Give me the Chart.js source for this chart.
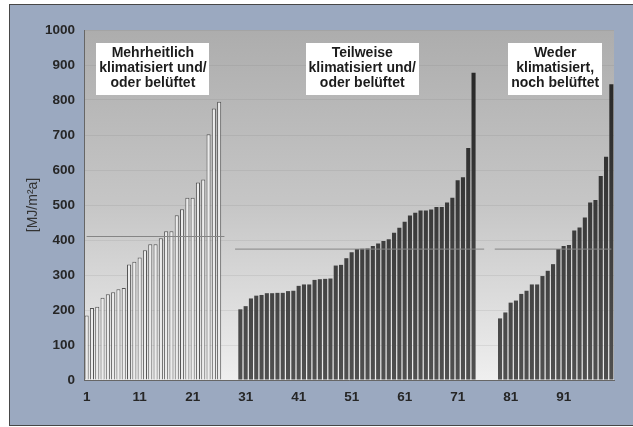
<!DOCTYPE html>
<html><head><meta charset="utf-8">
<script src="https://cdn.jsdelivr.net/npm/chart.js@4/dist/chart.umd.min.js"></script>
<style>
html,body{margin:0;padding:0;background:#fff;}
#wrap{position:relative;width:633px;height:427px;overflow:hidden;}
#frame{position:absolute;left:9px;top:4px;width:630px;height:422px;box-sizing:border-box;background:#9ba9c0;border:1.5px solid #474747;}
canvas{position:absolute;left:0;top:0;}
</style></head><body>
<div id="wrap"><div id="frame"></div><canvas id="c" width="633" height="427"></canvas></div>
<script>
const categories = ["1","2","3","4","5","6","7","8","9","10","11","12","13","14","15","16","17","18","19","20",
  "21","22","23","24","25","26","27","28","29","30","31","32","33","34","35","36","37","38","39","40",
  "41","42","43","44","45","46","47","48","49","50","51","52","53","54","55","56","57","58","59","60",
  "61","62","63","64","65","66","67","68","69","70","71","72","73","74","75","76","77","78","79","80",
  "81","82","83","84","85","86","87","88","89","90","91","92","93","94","95","96","97","98","99","100"];
const tickLabels = ["1","11","21","31","41","51","61","71","81","91"];
const groupNames = [
  ["Mehrheitlich","klimatisiert und/","oder belüftet"],
  ["Teilweise","klimatisiert und/","oder belüftet"],
  ["Weder","klimatisiert,","noch belüftet"]
];
const group1Values = [184,206,209,235,245,251,259,263,330,338,350,371,388,388,405,425,425,471,488,521,521,564,573,702,776,795];
const group2Values = [202,211,233,241,243,248,248,249,249,254,255,269,273,273,286,288,289,290,327,329,348,365,374,375,376,383,390,397,402,421,435,452,470,478,484,484,487,494,494,507,521,571,579,663,878];
const group3Values = [176,193,221,227,246,255,273,273,297,312,331,374,383,386,427,436,464,507,514,583,638,845];
const groupStarts = ["1","30","79"];
const meanValues = [410,374,374];
const meanFrom = ["1","29","78"];
const meanTo = ["27","76","100"];

function place(values, start){
  const s = categories.indexOf(start);
  return categories.map((c,i)=> (i>=s && i<s+values.length) ? values[i-s] : null);
}
function span(value, from, to){
  const a = categories.indexOf(from), b = categories.indexOf(to);
  return categories.map((c,i)=> (i===a || i===b) ? value : null);
}
function darkFill(ctx){
  const a = ctx.chart.chartArea;
  if(!a) return '#333';
  const g = ctx.chart.ctx.createLinearGradient(0,a.top,0,a.bottom);
  g.addColorStop(0,'#222222'); g.addColorStop(1,'#505050');
  return g;
}
const barCommon = {grouped:false, barPercentage:0.77, categoryPercentage:1, order:2};
const datasets = [
  Object.assign({label:'g1', data:place(group1Values,groupStarts[0]), backgroundColor:'#ececec', borderColor:'#555555', borderWidth:1}, barCommon),
  Object.assign({label:'g2', data:place(group2Values,groupStarts[1]), backgroundColor:darkFill, borderWidth:0}, barCommon),
  Object.assign({label:'g3', data:place(group3Values,groupStarts[2]), backgroundColor:darkFill, borderWidth:0}, barCommon)
];
meanValues.forEach((v,i)=>{
  datasets.push({type:'line', label:'m'+i, data:span(v,meanFrom[i],meanTo[i]), spanGaps:true, pointRadius:0,
    borderColor:'#858585', borderWidth:1, order:1});
});

const bgPlugin = {
  id:'bg',
  beforeDraw(chart){
    const {ctx, chartArea:a} = chart;
    const g = ctx.createLinearGradient(0,a.top,0,a.bottom);
    g.addColorStop(0,'#adadad'); g.addColorStop(0.5,'#c6c6c6'); g.addColorStop(1,'#efefef');
    ctx.save(); ctx.fillStyle = g; ctx.fillRect(a.left,a.top,a.width,a.height); ctx.restore();
  }
};
const labelPlugin = {
  id:'groupLabels',
  afterDatasetsDraw(chart, args, opts){
    const {ctx, scales:{x,y}} = chart;
    ctx.save();
    ctx.font = 'bold 14px "Liberation Sans", Arial, sans-serif';
    groupNames.forEach((lines,i)=>{
      const cx = x.getPixelForValue(opts.centers[i]);
      const top = y.getPixelForValue(opts.top);
      const w = Math.max(...lines.map(l=>ctx.measureText(l).width)) + opts.padX*2;
      ctx.fillStyle = '#ffffff';
      ctx.fillRect(Math.round(cx-w/2), Math.round(top), Math.round(w), opts.height);
      ctx.fillStyle = '#1c1c1c'; ctx.textAlign = 'center'; ctx.textBaseline = 'middle';
      lines.forEach((l,j)=> ctx.fillText(l, cx, top + opts.firstLine + j*opts.lineH));
    });
    ctx.restore();
  }
};

const tickFont = {family:'"Liberation Sans", Arial, sans-serif', size:13.5, weight:'bold'};
new Chart(document.getElementById('c'), {
  type:'bar',
  data:{labels:categories, datasets},
  plugins:[bgPlugin, labelPlugin],
  options:{
    responsive:false, animation:false, devicePixelRatio:1,
    layout:{padding:{top:30,right:19,bottom:0,left:0}},
    plugins:{legend:{display:false}, tooltip:{enabled:false},
      groupLabels:{centers:[12.5,52,88.4], top:963, height:52, padX:3, firstLine:10, lineH:15.3}},
    scales:{
      x:{
        grid:{display:false, drawTicks:false},
        border:{display:true, color:'#666666', width:1},
        ticks:{autoSkip:false, maxRotation:0, padding:9, color:'#262626', font:tickFont,
          callback(v,i){ const l = categories[i]; return tickLabels.includes(l) ? l : ''; }},
        afterFit(s){ s.height = 47; }
      },
      y:{
        min:0, max:1000,
        grid:{color:'rgba(110,110,110,0.13)', drawTicks:false},
        border:{display:true, color:'#666666', width:1},
        ticks:{stepSize:100, padding:9, color:'#262626', font:tickFont, callback(v){ return String(v); }},
        title:{display:true, text:'[MJ/m²a]', color:'#333333',
          font:{family:'"Liberation Sans", Arial, sans-serif', size:14}, padding:{top:25,bottom:0}},
        afterFit(s){ s.width = 84; }
      }
    }
  }
});
</script>
</body></html>
